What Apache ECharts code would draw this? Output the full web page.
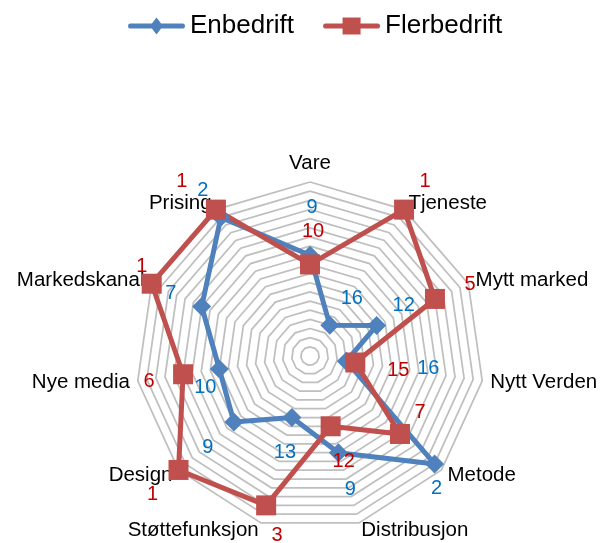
<!DOCTYPE html>
<html lang="en">
<head>
    <meta charset="UTF-8">
    <title>Enbedrift / Flerbedrift</title>
    <style>
        html, body { margin: 0; padding: 0; background: #fff; }
        #main { width: 606px; height: 543px; }
    </style>
    <script src="https://cdn.jsdelivr.net/npm/echarts@6/dist/echarts.min.js"></script>
</head>
<body>
<div id="main"></div>
<script>
// kategorier (med klokka fra toppen)
var categories = ['Vare', 'Tjeneste', 'Mytt marked', 'Nytt Verden', 'Metode', 'Distribusjon',
    'Støttefunksjon', 'Design', 'Nye media', 'Markedskanal', 'Prising'];
// rangering, 1 = ytterst
var enbedrift = [9, 16, 12, 16, 2, 9, 13, 9, 10, 7, 2];
var flerbedrift = [10, 1, 5, 15, 7, 12, 3, 1, 6, 1, 1];
var rankMin = 1;
var rankMax = 20;

// etikettforskyvning i piksler (dx, dy) fra punktet
var offsEn = [[2, -48], [22, -27], [27, -20], [82, 7], [2, 25], [12, 37], [-7, 35], [-26, 26], [-14, 18], [-31, -13], [-18, -27]];
var offsFler = [[3, -33], [21, -28], [35, -14], [43, 8], [20, -21], [13, 35], [11, 30], [-26, 25], [-34, 7], [-10, -17], [-34, -28]];

var BLUE = '#4F81BD', RED = '#C0504D';
var FONT = '"Liberation Sans", Arial, sans-serif';

// echarts radar goes counterclockwise, so map categories into that order
var order = [0];
for (var k = categories.length - 1; k > 0; k--) order.push(k);
function toRadar(arr) {
    return order.map(function (i) { return rankMax - arr[i]; });
}
// position of category i in the radar indicator list
function radarIdx(i) { return order.indexOf(i); }

var myChart = echarts.init(document.getElementById('main'));

var lineBar = 'M2,6 L55,6 Q57,6 57,8.5 Q57,11 55,11 L2,11 Q0,11 0,8.5 Q0,6 2,6 Z ';

var option = {
    backgroundColor: '#fff',
    animation: false,
    legend: {
        left: 123,
        top: 8,
        itemWidth: 57,
        itemHeight: 17,
        itemGap: 29,
        textStyle: { fontSize: 26, color: '#000', fontFamily: FONT, padding: [0, 0, 0, 0] },
        itemStyle: { borderWidth: 0 },
        data: [
            { name: 'Enbedrift', icon: 'path://' + lineBar + 'M28.5,0 L35,8.5 L28.5,17 L22,8.5 Z' },
            { name: 'Flerbedrift', icon: 'path://' + lineBar + 'M19.5,0 L37.5,0 L37.5,17 L19.5,17 Z' }
        ]
    },
    radar: {
        center: [310, 356],
        radius: 174,
        startAngle: 90,
        shape: 'polygon',
        splitNumber: rankMax - rankMin,
        nameGap: 8,
        indicator: order.map(function (i) {
            return { name: categories[i], min: 0, max: rankMax - rankMin };
        }),
        axisName: { color: '#000', fontSize: 20.5, fontFamily: FONT },
        splitLine: { lineStyle: { color: '#BFBFBF', width: 1.75 } },
        splitArea: { show: false },
        axisLine: { show: false },
        axisTick: { show: false },
        axisLabel: { show: false }
    },
    series: [{
        type: 'radar',
        data: [
            {
                name: 'Enbedrift',
                value: toRadar(enbedrift),
                symbol: 'diamond',
                symbolSize: 19,
                lineStyle: { color: BLUE, width: 5 },
                itemStyle: { color: BLUE }
            },
            {
                name: 'Flerbedrift',
                value: toRadar(flerbedrift),
                symbol: 'rect',
                symbolSize: 20,
                lineStyle: { color: RED, width: 5 },
                itemStyle: { color: RED }
            }
        ]
    }]
};

myChart.setOption(option);

// verdietiketter, plassert fra radarens egen skala
var radarCs = null;
try {
    radarCs = myChart.getModel().getComponent('radar', 0).coordinateSystem;
} catch (e) { radarCs = null; }

function pointOf(rank, i) {
    var v = rankMax - rank;
    var j = radarIdx(i);
    if (radarCs && radarCs.dataToPoint) return radarCs.dataToPoint(v, j);
    var ang = Math.PI / 2 + j * 2 * Math.PI / categories.length;
    var r = 174 * v / (rankMax - rankMin);
    return [310 + r * Math.cos(ang), 356 - r * Math.sin(ang)];
}

var texts = [];
function addLabels(vals, offs, color) {
    vals.forEach(function (rank, i) {
        var p = pointOf(rank, i);
        texts.push({
            type: 'text',
            x: p[0] + offs[i][0],
            y: p[1] + offs[i][1],
            z: 100,
            style: {
                text: String(rank),
                fill: color,
                font: '20px ' + FONT,
                align: 'center',
                verticalAlign: 'middle'
            }
        });
    });
}
addLabels(enbedrift, offsEn, '#0070C0');
addLabels(flerbedrift, offsFler, '#C00000');

myChart.setOption({ graphic: texts });
</script>
</body>
</html>
